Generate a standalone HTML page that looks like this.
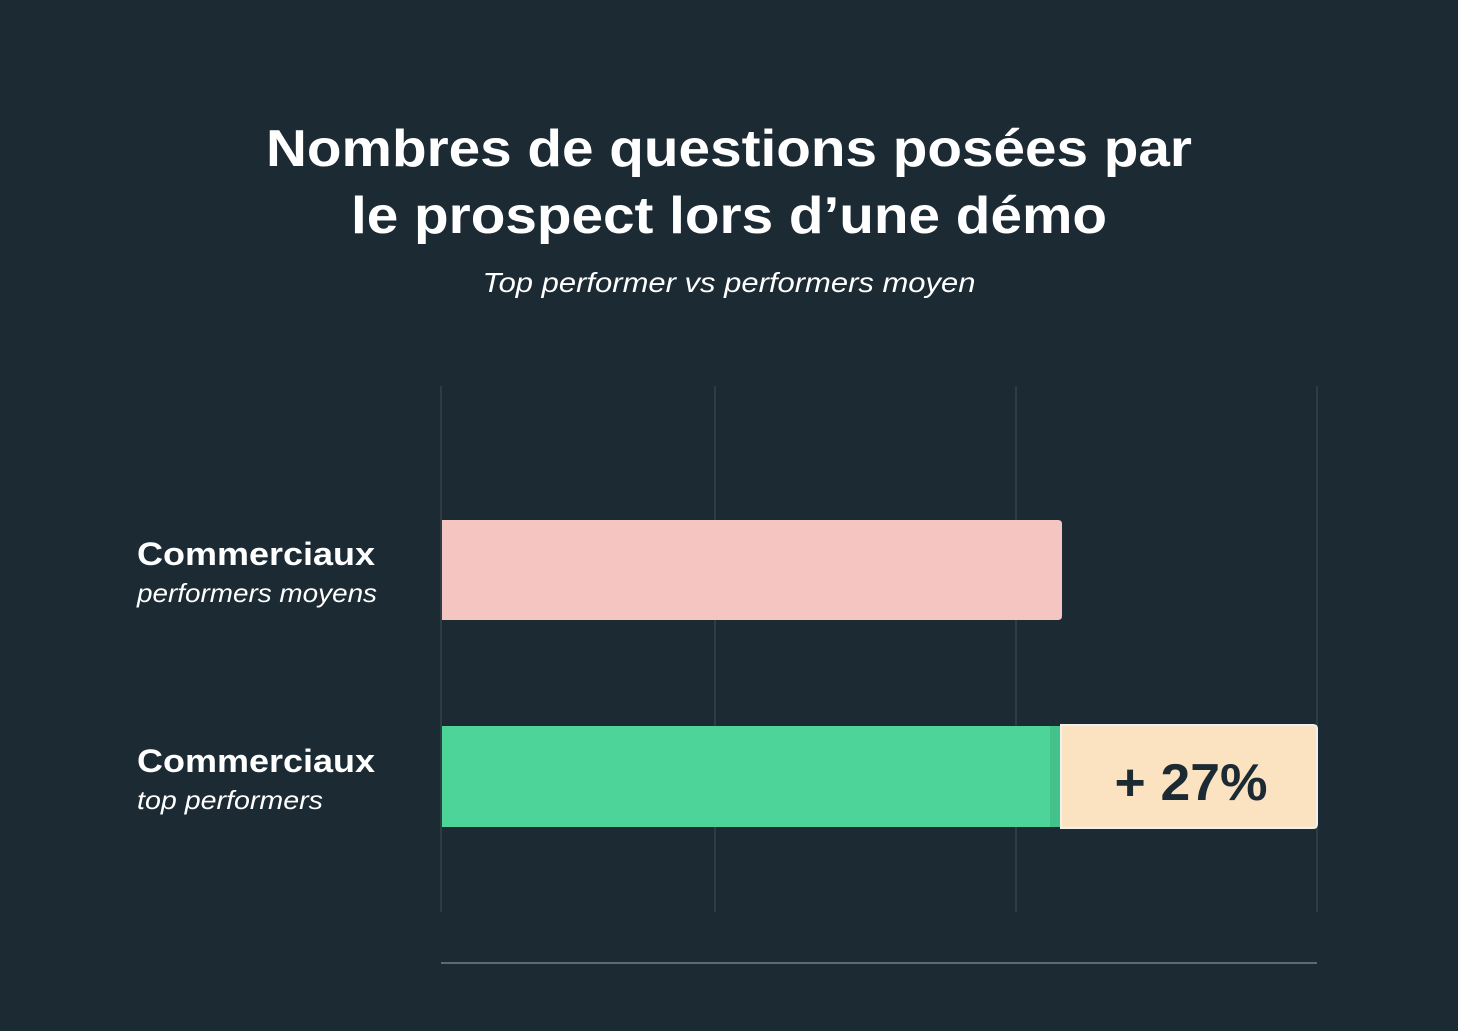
<!DOCTYPE html>
<html><head><meta charset="utf-8"><style>
html,body{margin:0;padding:0;background:#1b2a33;}
svg{display:block;}
</style></head><body>
<svg width="1458" height="1031" viewBox="0 0 1458 1031" xmlns="http://www.w3.org/2000/svg">
<rect width="1458" height="1031" fill="#1b2a33"/>
<g font-family="Liberation Sans, sans-serif" fill="#ffffff">
<text x="729" y="166" text-anchor="middle" font-size="52" font-weight="bold" textLength="926" lengthAdjust="spacingAndGlyphs">Nombres de questions posées par</text>
<text x="729" y="233" text-anchor="middle" font-size="52" font-weight="bold" textLength="756" lengthAdjust="spacingAndGlyphs">le prospect lors d’une démo</text>
<text x="729" y="292" text-anchor="middle" font-size="28" font-style="italic" textLength="493" lengthAdjust="spacingAndGlyphs">Top performer vs performers moyen</text>
<text x="137" y="565" font-size="32" font-weight="bold" textLength="238" lengthAdjust="spacingAndGlyphs">Commerciaux</text>
<text x="137" y="602" font-size="26" font-style="italic" textLength="240" lengthAdjust="spacingAndGlyphs">performers moyens</text>
<text x="137" y="772" font-size="32" font-weight="bold" textLength="238" lengthAdjust="spacingAndGlyphs">Commerciaux</text>
<text x="137" y="809" font-size="26" font-style="italic" textLength="186" lengthAdjust="spacingAndGlyphs">top performers</text>
</g>
<g stroke="#34434b" stroke-width="1.5">
<line x1="441" y1="386" x2="441" y2="912"/>
<line x1="715" y1="386" x2="715" y2="912"/>
<line x1="1016" y1="386" x2="1016" y2="912"/>
<line x1="1317" y1="386" x2="1317" y2="912"/>
</g>
<line x1="441" y1="963" x2="1317" y2="963" stroke="#5f6a70" stroke-width="2"/>
<path d="M442 520 H1058 Q1062 520 1062 524 V616 Q1062 620 1058 620 H442 Z" fill="#f4c5c1"/>
<rect x="442" y="726" width="620" height="101" fill="#4dd498"/>
<rect x="1050" y="726" width="12" height="101" fill="#3fb583" opacity="0.6"/>
<path d="M1061 725 H1313 Q1317 725 1317 729 V824 Q1317 828 1313 828 H1061 Z" fill="#fbe3c1" stroke="#f2f0ea" stroke-width="2"/>
<text x="1191" y="800" text-anchor="middle" font-family="Liberation Sans, sans-serif" font-size="52" font-weight="bold" fill="#1b2a33" textLength="153" lengthAdjust="spacingAndGlyphs">+ 27%</text>
</svg>
</body></html>
